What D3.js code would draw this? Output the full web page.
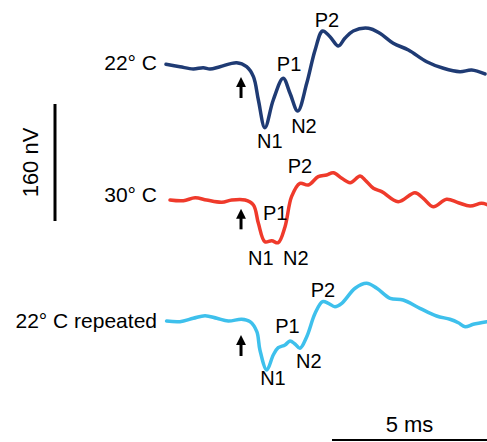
<!DOCTYPE html>
<html lang="en">
<head>
    <meta charset="UTF-8">
    <title>Evoked potentials</title>
    <script src="https://cdn.jsdelivr.net/npm/d3@7"></script>
    <style>
        body { margin: 0; background: #fff; }
        text { font-family: "Liberation Sans", Arial, sans-serif; fill: #000; }
    </style>
</head>
<body>
    <div id="chart-space"></div>

    <script>
        // traces: time (ms) and amplitude (nV)
        var t22 = [0.0, 0.45, 0.88, 1.20, 1.42, 1.74, 2.28, 2.60, 2.82, 2.98, 3.19, 3.46, 3.78, 4.00, 4.25, 4.54, 4.81, 5.05, 5.29, 5.56, 5.77, 6.04, 6.53, 6.90, 7.33, 7.82, 8.41, 8.95, 9.48, 9.86, 10.29];
        var v22 = [2.3, -1.0, -4.1, -2.3, -4.1, -1.0, 4.5, -1.0, -14.6, -46.5, -84.4, -46.5, -16.8, -37.3, -61.6, -23.7, 21.9, 47.9, 40.1, 27.4, 37.9, 47.9, 51.6, 44.7, 31.1, 21.9, 5.9, -3.1, -7.8, -5.5, -10.9];

        var t30 = [0.13, 0.56, 0.94, 1.31, 1.80, 2.12, 2.55, 2.82, 2.98, 3.19, 3.41, 3.62, 3.84, 4.05, 4.32, 4.59, 4.91, 5.18, 5.40, 5.67, 5.94, 6.26, 6.42, 6.69, 6.96, 7.49, 8.03, 8.30, 8.62, 9.05, 9.43, 9.81, 10.18, 10.39];
        var v30 = [0, -1.0, 3.1, 0, -3.1, 0, 0, -6.8, -31.9, -57.1, -55.7, -58.4, -36.5, 4.5, 22.8, 20.5, 31.9, 34.2, 37.3, 29.7, 23.7, 32.8, 27.4, 16.0, 11.4, -2.3, 10.0, 2.3, -9.2, 1.0, -3.7, -8.2, -4.5, -6.8];

        var t22r = [0.02, 0.45, 0.88, 1.26, 1.64, 2.01, 2.44, 2.71, 2.93, 3.03, 3.25, 3.46, 3.62, 3.84, 4.00, 4.16, 4.32, 4.54, 4.81, 5.05, 5.24, 5.45, 5.67, 6.10, 6.47, 6.80, 7.23, 7.65, 8.19, 8.73, 9.16, 9.43, 9.65, 9.91, 10.35];
        var v22r = [-1.4, -2.3, 2.3, 5.9, 2.3, -1.4, 1.0, -2.3, -16.0, -41.0, -68.4, -47.9, -37.9, -34.2, -28.7, -32.8, -38.7, -22.8, 9.2, 25.0, 22.8, 18.2, 22.8, 43.4, 50.2, 43.4, 29.7, 27.4, 16.0, 5.5, 1.0, -3.7, -9.2, -5.9, -2.3];

        var traceNames = ["22\u00b0 C", "30\u00b0 C", "22\u00b0 C repeated"];
        var traceColors = ["#1f3b74", "#ef3a2b", "#3ec0ec"];

        // peak labels (time ms, amplitude nV of label baseline)
        var peakNames = ["N1", "P1", "N2", "P2"];
        var peakT22 = [3.35, 3.97, 4.45, 5.19];
        var peakV22 = [-112, -6.4, -92, 53.8];
        var peakT30 = [3.06, 3.52, 4.19, 4.32];
        var peakV30 = [-88.9, -27.4, -88.9, 36.5];
        var peakT22r = [3.45, 3.92, 4.61, 5.06];
        var peakV22r = [-88.9, -18.2, -66.1, 31.9];

        // stimulus arrow
        var stimTime = 2.42;
        var arrowTip = [-12.3, -9.2, -17.8];
        var arrowBase = [-43.8, -40.1, -49.2];

        // scale bars
        var scaleNV = 160;
        var scaleMS = 5;

        var width = 487, height = 442;
        var baselines = [66, 200, 320];
        var pxPerNV = 117 / 160;

        var svg = d3.select("#chart-space")
            .append("svg")
            .attr("width", width)
            .attr("height", height);

        var xScale = d3.scaleLinear()
            .domain([0, 10.4])
            .range([166, 166 + 10.4 * 31]);

        var traces = [
            {t: t22, v: v22, pt: peakT22, pv: peakV22},
            {t: t30, v: v30, pt: peakT30, pv: peakV30},
            {t: t22r, v: v22r, pt: peakT22r, pv: peakV22r}
        ];

        svg.append("defs").append("marker")
            .attr("id", "head")
            .attr("viewBox", "0 0 10 10")
            .attr("refX", 5).attr("refY", 5)
            .attr("markerWidth", 3.3).attr("markerHeight", 3.3)
            .attr("markerUnits", "strokeWidth")
            .attr("orient", "auto")
            .append("path")
            .attr("d", "M0,0 L10,5 L0,10 z")
            .attr("fill", "#000");

        traces.forEach(function(tr, i) {
            var yScale = d3.scaleLinear()
                .domain([0, 160])
                .range([baselines[i], baselines[i] - 160 * pxPerNV]);

            var pts = tr.t.map(function(d, j) { return [d, tr.v[j]]; });

            var line = d3.line()
                .x(function(d) { return xScale(d[0]); })
                .y(function(d) { return yScale(d[1]); })
                .curve(d3.curveCatmullRom.alpha(0.5));

            svg.append("path")
                .datum(pts)
                .attr("d", line)
                .attr("fill", "none")
                .attr("stroke", traceColors[i])
                .attr("stroke-width", 3.5)
                .attr("stroke-linejoin", "round")
                .attr("stroke-linecap", "round");

            // trace name
            svg.append("text")
                .attr("x", 157)
                .attr("y", baselines[i] + [4, 2, 8][i])
                .attr("text-anchor", "end")
                .style("font-size", "21px")
                .text(traceNames[i]);

            // peak names
            svg.selectAll(null)
                .data(peakNames)
                .join("text")
                .attr("x", function(d, j) { return xScale(tr.pt[j]); })
                .attr("y", function(d, j) { return yScale(tr.pv[j]); })
                .attr("text-anchor", "middle")
                .style("font-size", "20px")
                .text(function(d) { return d; });

            // stimulus arrow
            svg.append("line")
                .attr("x1", xScale(stimTime))
                .attr("x2", xScale(stimTime))
                .attr("y1", yScale(arrowBase[i]))
                .attr("y2", yScale(arrowTip[i]) + 7)
                .attr("stroke", "#000")
                .attr("stroke-width", 3)
                .attr("marker-end", "url(#head)");
        });

        // vertical scale bar
        var barTop = 104;
        svg.append("line")
            .attr("x1", 55).attr("x2", 55)
            .attr("y1", barTop).attr("y2", barTop + scaleNV * pxPerNV)
            .attr("stroke", "#000")
            .attr("stroke-width", 3);

        svg.append("text")
            .attr("transform", "translate(38," + (barTop + scaleNV * pxPerNV / 2) + ") rotate(-90)")
            .attr("text-anchor", "middle")
            .style("font-size", "22px")
            .text(scaleNV + " nV");

        // horizontal scale bar
        var barRight = 487;
        var barLeft = barRight - (xScale(scaleMS) - xScale(0));
        svg.append("line")
            .attr("x1", barLeft).attr("x2", barRight)
            .attr("y1", 440).attr("y2", 440)
            .attr("stroke", "#000")
            .attr("stroke-width", 2);

        svg.append("text")
            .attr("x", (barLeft + barRight) / 2)
            .attr("y", 432)
            .attr("text-anchor", "middle")
            .style("font-size", "22px")
            .text(scaleMS + " ms");
    </script>
</body>
</html>
